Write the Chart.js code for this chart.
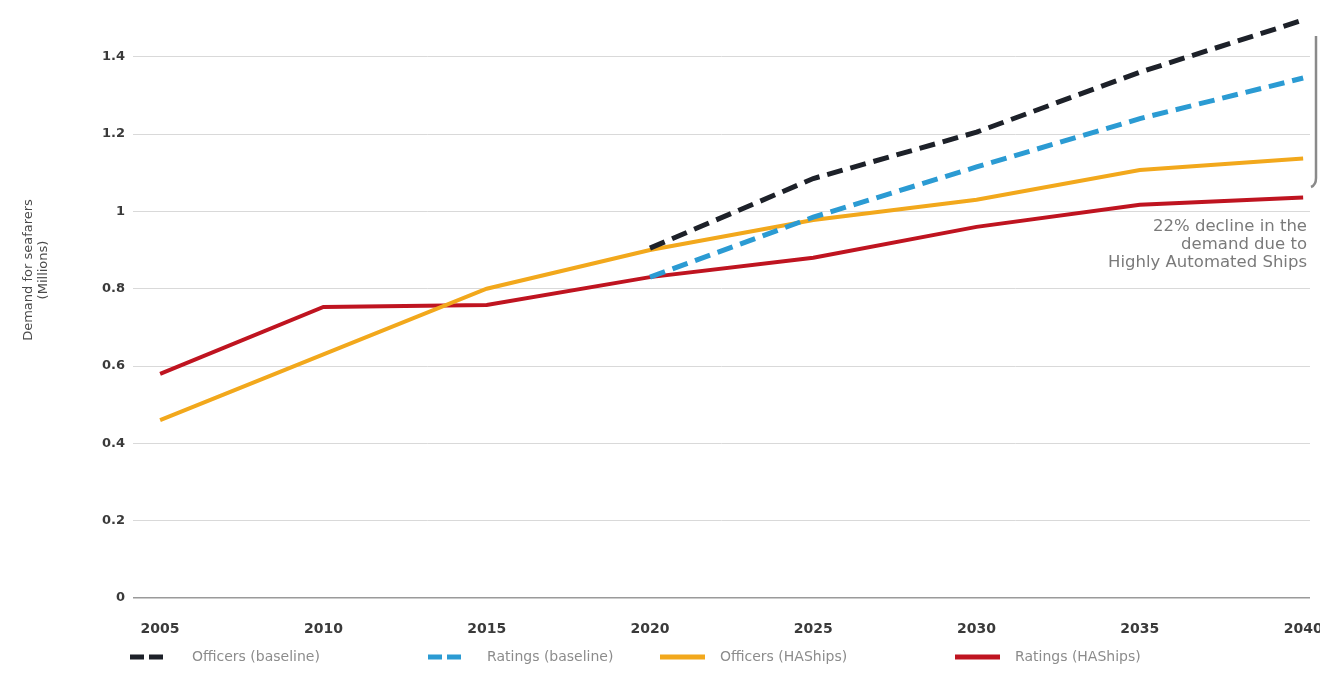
<!DOCTYPE html>
<html>
<head>
<meta charset="utf-8">
<title>Demand for seafarers</title>
<script src="https://cdn.jsdelivr.net/npm/chart.js@4.4.1/dist/chart.umd.min.js"></script>
<style>
  body { margin: 0; background: #fff; }
  #wrap { width: 1320px; height: 691px; }
</style>
</head>
<body>
<div id="wrap"><canvas id="seafarersChart" width="1320" height="691"></canvas></div>
<script>
const years = [2005, 2010, 2015, 2020, 2025, 2030, 2035, 2040];
const officersBaseline = [null, null, null, 0.905, 1.085, 1.205, 1.36, 1.495];
const ratingsBaseline = [null, null, null, 0.83, 0.985, 1.115, 1.24, 1.345];
const officersHAShips = [0.46, 0.63, 0.80, 0.90, 0.978, 1.03, 1.107, 1.137];
const ratingsHAShips = [0.58, 0.753, 0.758, 0.83, 0.88, 0.96, 1.017, 1.036];

const seriesNames = ["Officers (baseline)", "Ratings (baseline)", "Officers (HAShips)", "Ratings (HAShips)"];
const yTickValues = [0, 0.2, 0.4, 0.6, 0.8, 1, 1.2, 1.4];
const yTickLabels = ["0", "0.2", "0.4", "0.6", "0.8", "1", "1.2", "1.4"];
const xTickLabels = ["2005", "2010", "2015", "2020", "2025", "2030", "2035", "2040"];
const yTitleLines = ["Demand for seafarers", "(Millions)"];
const noteLines = ["22% decline in the", "demand due to", "Highly Automated Ships"];

const FONT = "'DejaVu Sans', 'Liberation Sans', sans-serif";

function points(values) {
    return years.map((y, i) => ({ x: y, y: values[i] }));
}

// legend + axis title + side note, drawn on the canvas
const extras = {
    id: "extras",
    afterDraw(chart) {
        const ctx = chart.ctx;
        ctx.save();

        // y axis title
        ctx.fillStyle = "#4a4a4a";
        ctx.font = "13px " + FONT;
        ctx.textAlign = "center";
        ctx.textBaseline = "middle";
        ctx.translate(0, 270);
        ctx.rotate(-Math.PI / 2);
        ctx.fillText(yTitleLines[0], 0, 29);
        ctx.fillText(yTitleLines[1], 0, 44);
        ctx.setTransform(1, 0, 0, 1, 0, 0);

        // note
        ctx.fillStyle = "#7a7a7a";
        ctx.font = "16.5px " + FONT;
        ctx.textAlign = "right";
        noteLines.forEach((t, i) => ctx.fillText(t, 1307, 227 + i * 18));

        // bracket
        ctx.strokeStyle = "#8a8a8a";
        ctx.lineWidth = 2.5;
        ctx.beginPath();
        ctx.moveTo(1316, 36);
        ctx.lineTo(1316, 178);
        ctx.quadraticCurveTo(1316, 185, 1311, 187);
        ctx.stroke();

        // legend
        const sampleX = [130, 428, 660, 955];
        const textX = [192, 487, 720, 1015];
        const ly = 657;
        chart.data.datasets.forEach((ds, i) => {
            ctx.strokeStyle = ds.borderColor;
            ctx.lineWidth = 5;
            ctx.lineCap = "butt";
            ctx.beginPath();
            if (ds.borderDash && ds.borderDash.length) {
                ctx.setLineDash([14, 5]);
                ctx.moveTo(sampleX[i], ly);
                ctx.lineTo(sampleX[i] + 34, ly);
            } else {
                ctx.setLineDash([]);
                ctx.moveTo(sampleX[i], ly);
                ctx.lineTo(sampleX[i] + 45, ly);
            }
            ctx.stroke();
            ctx.setLineDash([]);
            ctx.fillStyle = "#8c8c8c";
            ctx.font = "14px " + FONT;
            ctx.textAlign = "left";
            ctx.textBaseline = "middle";
            ctx.fillText(ds.label, textX[i], ly);
        });
        ctx.restore();
    }
};

const ctx = document.getElementById("seafarersChart").getContext("2d");
new Chart(ctx, {
    type: "line",
    data: {
        datasets: [{
            label: seriesNames[0],
            data: points(officersBaseline),
            borderColor: "#1d2129",
            borderWidth: 5,
            borderDash: [16, 8]
        }, {
            label: seriesNames[1],
            data: points(ratingsBaseline),
            borderColor: "#2b9bd3",
            borderWidth: 5,
            borderDash: [16, 8]
        }, {
            label: seriesNames[2],
            data: points(officersHAShips),
            borderColor: "#f2a81c",
            borderWidth: 4
        }, {
            label: seriesNames[3],
            data: points(ratingsHAShips),
            borderColor: "#bf1420",
            borderWidth: 4
        }]
    },
    options: {
        responsive: false,
        animation: false,
        devicePixelRatio: 1,
        layout: { padding: { left: 0, right: 10, top: 15, bottom: 48 } },
        elements: {
            point: { radius: 0 },
            line: { tension: 0, fill: false }
        },
        plugins: {
            legend: { display: false },
            tooltip: { enabled: false }
        },
        scales: {
            x: {
                type: "linear",
                min: 2004.17,
                max: 2040.21,
                grid: { display: false },
                border: { display: false },
                afterBuildTicks: scale => { scale.ticks = years.map(v => ({ value: v })); },
                afterFit: scale => { scale.height = 45; scale.paddingLeft = 0; scale.paddingRight = 0; },
                ticks: {
                    autoSkip: false,
                    maxRotation: 0,
                    padding: 15,
                    color: "#3a3a3a",
                    font: { family: FONT, size: 14, weight: "bold" },
                    callback: (v, i) => xTickLabels[i]
                }
            },
            y: {
                min: 0,
                max: 1.506,
                border: { display: false },
                grid: {
                    drawTicks: false,
                    color: c => c.tick && c.tick.value === 0 ? "#9a9a9a" : "#d9d9d9",
                    lineWidth: c => c.tick && c.tick.value === 0 ? 1.5 : 1
                },
                afterBuildTicks: scale => { scale.ticks = yTickValues.map(v => ({ value: v })); },
                afterFit: scale => { scale.width = 133; },
                ticks: {
                    padding: 8,
                    color: "#3a3a3a",
                    font: { family: FONT, size: 13, weight: "bold" },
                    callback: (v, i) => yTickLabels[i]
                }
            }
        }
    },
    plugins: [extras]
});
</script>
</body>
</html>
